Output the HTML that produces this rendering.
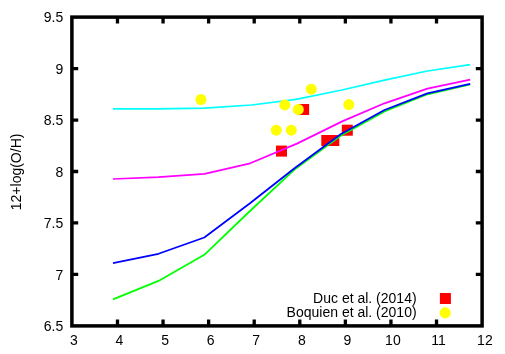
<!DOCTYPE html><html><head><meta charset="utf-8"><style>html,body{margin:0;padding:0;background:#fff}body{width:505px;height:354px;overflow:hidden;position:relative;font-family:"Liberation Sans",sans-serif}</style></head><body>
<svg width="505" height="354" viewBox="0 0 505 354" style="position:absolute;left:0;top:0;will-change:transform">
<rect width="505" height="354" fill="#fff"/>
<rect x="276.0" y="145.6" width="11" height="11" fill="#f00"/>
<rect x="298.1" y="104.0" width="11" height="11" fill="#f00"/>
<rect x="321.3" y="135.0" width="11" height="11" fill="#f00"/>
<rect x="328.3" y="135.0" width="11" height="11" fill="#f00"/>
<rect x="341.8" y="124.7" width="11" height="11" fill="#f00"/>
<polyline fill="none" stroke="#0f0" stroke-width="1.75" stroke-linejoin="round" points="113.0,299.4 158.5,280.9 204.3,254.8 250.0,211.0 295.5,168.7 341.0,135.5 384.5,111.4 427.4,94.3 470.2,84.5"/>
<polyline fill="none" stroke="#00f" stroke-width="1.75" stroke-linejoin="round" points="113.0,263.1 158.5,253.8 204.3,237.5 250.0,203.3 295.5,167.5 341.0,134.0 384.5,110.0 427.4,93.4 470.2,83.9"/>
<polyline fill="none" stroke="#f0f" stroke-width="1.75" stroke-linejoin="round" points="113.0,179.0 158.5,177.1 204.5,173.8 250.2,163.3 297.0,143.6 342.2,121.4 384.5,103.3 427.4,88.6 470.2,79.6"/>
<polyline fill="none" stroke="#0ff" stroke-width="1.75" stroke-linejoin="round" points="113.0,108.9 158.5,108.9 204.5,108.1 251.5,105.0 296.0,99.4 342.0,90.0 384.5,80.1 427.4,71.0 470.2,64.6"/>
<circle cx="200.9" cy="99.5" r="5.5" fill="#ff0"/>
<circle cx="284.8" cy="104.9" r="5.5" fill="#ff0"/>
<circle cx="298.3" cy="109.4" r="5.5" fill="#ff0"/>
<circle cx="276.3" cy="130.2" r="5.5" fill="#ff0"/>
<circle cx="291.3" cy="130.2" r="5.5" fill="#ff0"/>
<circle cx="311.3" cy="89.2" r="5.5" fill="#ff0"/>
<circle cx="348.8" cy="104.6" r="5.5" fill="#ff0"/>
<rect x="439.9" y="293" width="11" height="11" fill="#f00"/>
<circle cx="445.2" cy="312.9" r="5.6" fill="#ff0"/>
<path d="M117.48 325.90V319.60 M117.48 17.10V23.40 M163.06 325.90V319.60 M163.06 17.10V23.40 M208.63 325.90V319.60 M208.63 17.10V23.40 M254.21 325.90V319.60 M254.21 17.10V23.40 M299.79 325.90V319.60 M299.79 17.10V23.40 M345.37 325.90V319.60 M345.37 17.10V23.40 M390.94 325.90V319.60 M390.94 17.10V23.40 M436.52 325.90V319.60 M436.52 17.10V23.40 M71.90 274.43H78.20 M482.10 274.43H475.80 M71.90 222.97H78.20 M482.10 222.97H475.80 M71.90 171.50H78.20 M482.10 171.50H475.80 M71.90 120.03H78.20 M482.10 120.03H475.80 M71.90 68.57H78.20 M482.10 68.57H475.80" stroke="#000" stroke-width="3.3" fill="none"/>
<rect x="71.90" y="17.10" width="410.20" height="308.80" fill="none" stroke="#000" stroke-width="3.5"/>
<g font-family="Liberation Sans, sans-serif" font-size="14" fill="#000">
<text x="73.9" y="344.9" text-anchor="middle">3</text>
<text x="119.5" y="344.9" text-anchor="middle">4</text>
<text x="165.1" y="344.9" text-anchor="middle">5</text>
<text x="210.6" y="344.9" text-anchor="middle">6</text>
<text x="256.2" y="344.9" text-anchor="middle">7</text>
<text x="301.8" y="344.9" text-anchor="middle">8</text>
<text x="347.4" y="344.9" text-anchor="middle">9</text>
<text x="392.9" y="344.9" text-anchor="middle">10</text>
<text x="438.5" y="344.9" text-anchor="middle">11</text>
<text x="484.9" y="344.9" text-anchor="middle">12</text>
<text x="63.2" y="331.0" text-anchor="end">6.5</text>
<text x="63.2" y="279.5" text-anchor="end">7</text>
<text x="63.2" y="228.1" text-anchor="end">7.5</text>
<text x="63.2" y="176.6" text-anchor="end">8</text>
<text x="63.2" y="125.1" text-anchor="end">8.5</text>
<text x="63.2" y="73.7" text-anchor="end">9</text>
<text x="63.2" y="22.2" text-anchor="end">9.5</text>
<text x="416.6" y="302.8" text-anchor="end">Duc et al. (2014)</text>
<text x="416.6" y="317.2" text-anchor="end">Boquien et al. (2010)</text>
<text transform="translate(20.6,171.9) rotate(-90)" text-anchor="middle">12+log(O/H)</text>
</g></svg>
</body></html>
